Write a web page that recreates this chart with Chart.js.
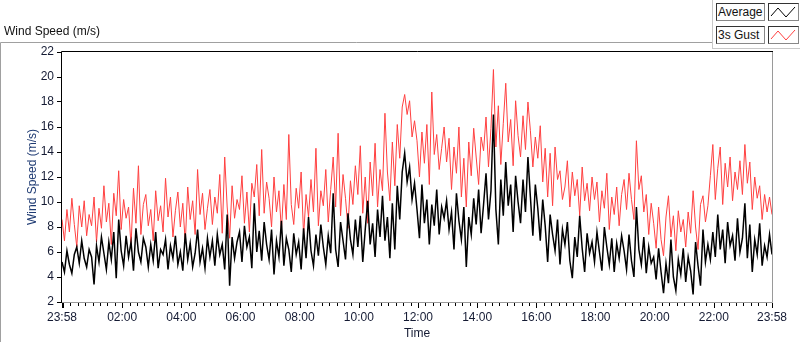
<!DOCTYPE html>
<html lang="en">
<head>
    <meta charset="UTF-8">
    <title>Wind Speed (m/s)</title>
    <script src="https://cdn.jsdelivr.net/npm/chart.js"></script>
    <style>
        body { margin: 0; background: #fff; font-family: "Liberation Sans", Arial, sans-serif; }
        .wrap { position: relative; width: 800px; height: 342px; overflow: hidden; }
        canvas { position: absolute; left: 0; top: 0; }
        .title { position: absolute; left: 4px; top: 24px; font-size: 12px; color: #111; }
        .legend-panel { position: absolute; left: 712px; top: 0; width: 88px; height: 49px;
            border-left: 1px solid #c8c8c8; border-bottom: 1px solid #c8c8c8; box-sizing: border-box; background: #fff; }
        .legend-row { position: absolute; left: 3px; height: 18px; }
        .legend-label { position: absolute; left: 0; top: 0; width: 49px; height: 18px; box-sizing: border-box;
            border: 1px solid #333; border-right-color: #888; border-bottom-color: #888;
            font-size: 12px; line-height: 16px; padding-left: 1px; color: #111; background: #fdfdfd; }
        .legend-swatch { position: absolute; left: 52px; top: 0; width: 31px; height: 18px; box-sizing: border-box;
            border: 1px solid #333; border-right-color: #888; border-bottom-color: #888; background: #fff; }
    </style>
</head>
<body>
    <div class="wrap">
        <canvas id="windChart" width="800" height="342"></canvas>
        <div class="title">Wind Speed (m/s)</div>
        <div class="legend-panel">
            <div class="legend-row" style="top: 3px;">
                <div class="legend-label">Average</div>
                <div class="legend-swatch"><svg width="29" height="16"><polyline points="2,12 9,4 17,13 26,3" fill="none" stroke="#000" stroke-width="1"/></svg></div>
            </div>
            <div class="legend-row" style="top: 26px;">
                <div class="legend-label">3s Gust</div>
                <div class="legend-swatch"><svg width="29" height="16"><polyline points="2,12 9,4 17,13 26,3" fill="none" stroke="#ff4040" stroke-width="1"/></svg></div>
            </div>
        </div>
    </div>

    <script>
        // one value every 5 minutes, starting 23:58, one row per hour
        const avgSpeed = [
            5.2, 4.4, 6.1, 5.0, 4.3, 5.8, 6.4, 5.1, 6.9, 5.5, 4.8, 6.2,
            5.6, 3.4, 6.5, 5.2, 7.2, 5.9, 4.6, 6.8, 5.4, 7.6, 3.9, 8.6,
            6.1, 4.9, 7.3, 5.6, 6.8, 4.5, 7.9, 6.0, 5.2, 7.1, 6.4, 4.8,
            6.6, 5.3, 7.6, 4.7, 6.2, 5.8, 7.0, 4.6, 6.5, 5.5, 7.3, 5.0,
            6.0, 4.5, 7.5, 5.4, 6.7, 4.8, 5.9, 7.8, 5.2, 6.3, 4.7, 7.1,
            5.6, 6.9, 4.9, 7.4, 5.8, 6.6, 4.6, 9.0, 3.3, 7.2, 5.5, 6.8,
            7.6, 5.2, 8.1, 6.4, 7.2, 4.7, 9.9, 6.0, 7.7, 5.3, 8.4, 6.6,
            5.4, 7.8, 4.2, 6.9, 5.6, 8.5, 4.9, 7.1, 6.2, 4.4, 7.5, 5.8,
            6.8, 4.6, 7.9, 5.5, 8.8, 6.1, 4.9, 7.4, 5.7, 8.2, 6.4, 5.0,
            7.3, 5.9, 10.7, 6.2, 4.8, 8.4, 6.9, 5.4, 9.1, 7.0, 5.8, 8.6,
            6.4, 8.9, 5.2, 7.8, 10.1, 6.6, 8.3, 5.6, 9.4, 7.2, 10.5, 6.9,
            8.8, 5.5, 9.9, 6.2, 11.3, 8.6, 12.4, 13.9, 11.6, 12.8, 10.2, 11.5,
            9.4, 7.1, 11.4, 8.3, 10.2, 6.6, 9.8, 8.1, 11.0, 7.4, 9.6, 8.7,
            10.1, 7.8, 9.2, 6.2, 10.7, 8.5, 7.0, 9.6, 4.8, 8.8, 7.4, 10.3,
            8.2, 11.0, 7.5, 9.8, 12.3, 8.6, 10.9, 17.0, 9.4, 6.6, 11.8, 8.9,
            13.2, 9.7, 11.4, 7.6, 12.1, 10.0, 8.3, 11.8, 9.2, 13.6, 10.4, 7.3,
            11.4, 9.5, 6.9, 10.2, 8.1, 5.2, 9.0, 7.4, 6.1, 8.6, 5.0, 7.8,
            6.6, 8.4, 5.3, 3.9, 7.2, 5.6, 8.9, 6.3, 4.4, 7.5, 5.9, 6.8,
            5.2, 7.6, 6.0, 4.5, 8.0, 6.4, 5.0, 7.1, 4.4, 6.7, 5.5, 7.3,
            6.1, 4.6, 7.4, 5.3, 4.0, 9.6, 6.2, 5.0, 7.2, 4.3, 6.4, 5.1,
            5.6, 3.8, 6.3, 4.4, 2.7, 5.1, 3.5, 7.0, 4.0, 2.9, 5.4, 4.2,
            6.3, 3.6, 5.6, 4.5, 2.6, 6.8, 4.9, 3.3, 7.8, 5.2, 6.6, 5.4,
            7.6, 5.6, 9.0, 6.2, 7.8, 5.1, 8.4, 6.5, 7.3, 5.3, 8.7, 6.0,
            7.1, 9.9, 5.5, 8.2, 4.4, 7.0, 5.8, 8.3, 4.9, 6.5, 5.6, 7.4,
            5.8
        ];
        const gustSpeed = [
            8.6, 6.9, 9.4, 7.6, 10.3, 8.2, 6.4, 9.7, 8.0, 10.1, 7.3, 9.0,
            8.1, 10.4, 6.8, 9.5, 7.9, 11.3, 8.4, 9.9, 6.6, 10.7, 8.9, 12.5,
            7.8, 10.2, 8.7, 9.6, 6.5, 11.1, 8.3, 12.9, 7.4, 9.8, 10.6, 8.1,
            9.4, 6.9, 10.9, 8.5, 9.7, 7.6, 11.9, 8.8, 10.4, 7.2, 9.3, 10.8,
            8.0, 9.9, 6.7, 11.2, 8.6, 10.1, 7.4, 12.6, 9.0, 10.7, 7.8, 9.5,
            11.0, 8.2, 10.4, 9.1, 12.2, 7.5, 13.6, 9.6, 7.1, 11.3, 8.7, 10.2,
            9.4, 12.1, 8.3, 10.8, 7.6, 11.5, 10.4, 13.0, 8.9, 14.2, 9.1, 11.6,
            10.3, 8.0, 12.0, 9.2, 10.9, 7.7, 11.4, 8.6, 15.4, 9.8, 8.2, 11.1,
            9.5, 12.4, 7.3, 10.6, 8.8, 11.8, 9.2, 14.3, 8.1, 10.9, 9.7, 12.6,
            8.4, 11.0, 13.6, 9.6, 15.5, 8.9, 12.2, 10.3, 7.9, 11.7, 9.8, 12.9,
            10.6, 14.5, 9.1, 12.0, 8.3, 13.2, 10.5, 14.7, 9.6, 12.6, 10.9, 17.1,
            12.4, 10.1, 14.8, 11.3, 16.2, 13.5, 17.6, 18.6, 17.0, 18.1, 15.2, 16.5,
            14.9, 12.0, 15.6, 13.1, 16.2, 11.4, 18.8, 13.8, 15.4, 12.6, 14.3, 16.0,
            13.2, 15.1, 11.0, 14.4, 12.3, 16.0, 10.4, 13.5, 9.6, 14.8, 12.1, 15.9,
            13.6, 11.4, 15.2, 14.1, 16.8, 12.8, 15.9, 20.6, 14.4, 17.7, 13.0, 16.3,
            19.5, 14.8, 16.6, 12.9, 18.1, 15.3, 13.6, 16.9, 14.2, 18.0, 15.7, 12.8,
            15.2, 13.5, 16.1, 11.6, 14.3, 10.4, 13.9, 9.7, 14.4, 11.8, 12.5, 10.2,
            11.2, 13.3, 9.6, 12.4, 10.5, 11.8, 8.9, 12.8, 10.1, 11.5, 9.3, 12.0,
            10.2, 11.6, 8.4, 10.9, 9.5, 12.3, 7.8, 10.4, 9.0, 11.2, 8.1, 10.6,
            11.8, 9.4, 12.3, 10.2, 8.6, 14.9, 11.0, 12.1, 9.2, 10.6, 7.4, 9.9,
            8.3, 6.3, 9.6, 7.0, 5.7, 8.8, 10.5, 7.2, 8.9, 6.1, 9.3, 7.6,
            8.6, 6.4, 9.2, 7.5, 10.9, 8.0, 6.2, 9.8, 10.5, 8.4, 9.7, 12.1,
            14.6, 10.2, 12.7, 14.4, 9.8, 13.1, 11.2, 13.6, 10.1, 12.4, 11.0, 13.3,
            10.6, 14.6, 11.5, 13.2, 9.4, 12.0, 10.3, 11.3, 8.6, 10.6, 9.2, 10.4,
            9.0
        ];
        const sampleStep = 5; // minutes between samples
        const timeTickLabels = ['23:58', '02:00', '04:00', '06:00', '08:00', '10:00', '12:00',
                                '14:00', '16:00', '18:00', '20:00', '22:00', '23:58'];
        const speedTicks = [2, 4, 6, 8, 10, 12, 14, 16, 18, 20, 22];

        const startClock = 23 * 60 + 58;
        const totalMinutes = (avgSpeed.length - 1) * sampleStep;

        function clockToOffset(label, idx) {
            if (idx === timeTickLabels.length - 1) return totalMinutes;
            const [h, m] = label.split(':').map(Number);
            return (h * 60 + m - startClock + 1440) % 1440;
        }

        const majorOffsets = timeTickLabels.map(clockToOffset);
        const labelByOffset = {};
        majorOffsets.forEach((o, i) => { labelByOffset[o] = timeTickLabels[i]; });

        // minor marks every quarter hour of clock time
        const tickOffsets = [0];
        for (let o = 2; o < totalMinutes; o += 15) tickOffsets.push(o);
        tickOffsets.push(totalMinutes);

        const toPoints = arr => arr.map((v, i) => ({ x: i * sampleStep, y: v }));

        const font = { family: '"Liberation Sans", Arial, sans-serif', size: 12 };

        const framePlugin = {
            id: 'frame',
            afterDraw(chart) {
                const { ctx, chartArea: a } = chart;
                const xs = chart.scales.x;
                ctx.save();
                ctx.lineWidth = 1;
                // outer panel
                ctx.strokeStyle = '#a0a0a0';
                ctx.beginPath();
                ctx.moveTo(0.5, 342);
                ctx.lineTo(0.5, 42.5);
                ctx.lineTo(712, 42.5);
                ctx.stroke();
                // plot frame
                ctx.strokeStyle = '#9a9a9a';
                ctx.beginPath();
                ctx.moveTo(a.left, a.bottom + 0.5);
                ctx.lineTo(a.right + 0.5, a.bottom + 0.5);
                ctx.lineTo(a.right + 0.5, a.top);
                ctx.stroke();
                ctx.strokeStyle = '#000';
                ctx.beginPath();
                ctx.moveTo(a.left - 0.5, a.bottom);
                ctx.lineTo(a.left - 0.5, a.top - 0.5);
                ctx.lineTo(a.right + 1, a.top - 0.5);
                ctx.stroke();
                // time axis marks
                ctx.strokeStyle = '#000';
                ctx.beginPath();
                xs.ticks.forEach(t => {
                    const px = Math.round(xs.getPixelForValue(t.value)) + 0.5;
                    const len = (t.value in labelByOffset || t.value === 2) ? 5 : 3;
                    ctx.moveTo(px, a.bottom + 1);
                    ctx.lineTo(px, a.bottom + 1 + len);
                });
                ctx.stroke();
                ctx.restore();
            }
        };

        const ctx = document.getElementById('windChart').getContext('2d');
        const windChart = new Chart(ctx, {
            type: 'line',
            data: {
                datasets: [{
                    label: 'Average',
                    data: toPoints(avgSpeed),
                    borderColor: '#000000',
                    borderWidth: 1.5,
                    pointRadius: 0,
                    tension: 0,
                    order: 0
                }, {
                    label: '3s Gust',
                    data: toPoints(gustSpeed),
                    borderColor: '#ff4040',
                    borderWidth: 1,
                    pointRadius: 0,
                    tension: 0,
                    order: 1
                }]
            },
            options: {
                responsive: false,
                animation: false,
                layout: { padding: { left: 21, right: 28, top: 52, bottom: 0 } },
                plugins: {
                    legend: { display: false },
                    tooltip: { enabled: false }
                },
                scales: {
                    x: {
                        type: 'linear',
                        min: 0,
                        max: totalMinutes,
                        afterBuildTicks: scale => {
                            scale.ticks = tickOffsets.map(v => ({ value: v }));
                        },
                        afterFit: scale => { scale.height = 40; },
                        grid: { display: false, drawTicks: false },
                        border: { display: false },
                        ticks: {
                            autoSkip: false,
                            maxRotation: 0,
                            padding: 8,
                            color: '#141a33',
                            font: font,
                            callback: value => labelByOffset[value] || ''
                        },
                        title: {
                            display: true,
                            text: 'Time',
                            color: '#141a33',
                            font: font,
                            padding: { top: 0, bottom: 1 }
                        }
                    },
                    y: {
                        min: 2,
                        max: 22,
                        afterBuildTicks: scale => {
                            scale.ticks = speedTicks.map(v => ({ value: v }));
                        },
                        afterFit: scale => { scale.width = 41; },
                        grid: {
                            display: true,
                            drawOnChartArea: false,
                            tickLength: 5,
                            color: '#000'
                        },
                        border: { display: false },
                        ticks: {
                            padding: 3,
                            color: '#141a33',
                            font: font
                        },
                        title: {
                            display: true,
                            text: 'Wind Speed (m/s)',
                            color: '#1f3b73',
                            font: font
                        }
                    }
                }
            },
            plugins: [framePlugin]
        });
    </script>
</body>
</html>
